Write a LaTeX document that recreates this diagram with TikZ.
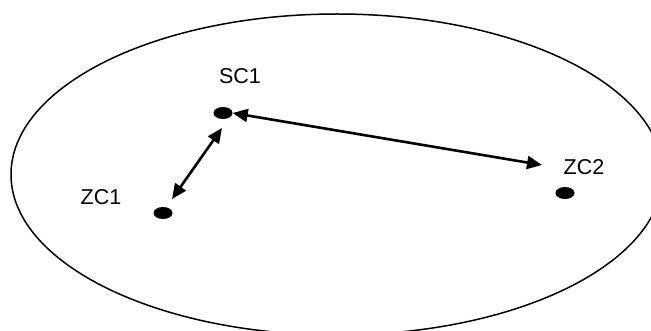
\documentclass[tikz,border=0pt]{standalone}
\usepackage{fontspec}
\setmainfont{Liberation Sans}
\usetikzlibrary{arrows.meta,shapes.geometric}
\begin{document}
\begin{tikzpicture}[x=1pt,y=-1pt,
  dot/.style={fill=black,ellipse,inner sep=0pt,minimum width=19pt,minimum height=12pt},
  lbl/.style={font=\fontsize{21.5}{25}\selectfont,inner sep=0pt},
  link/.style={line width=2.6pt,{Triangle[length=15pt,width=13pt]}-{Triangle[length=15pt,width=13pt]}}]
\useasboundingbox (0,0) rectangle (651,331);
\begin{scope}
  \clip (0,0) rectangle (651,331);
  \draw[line width=1.5pt] (337,174.5) ellipse [x radius=326, y radius=160.5];
\end{scope}
% stations
\node[dot] (sc1) at (223,113) {};
\node[dot] (zc1) at (163,213) {};
\node[dot] (zc2) at (565,193) {};
% labels
\node[lbl] (sc1l) at (240,76) {SC1};
\node[lbl] (zc1l) at (101,197) {ZC1};
\node[lbl] (zc2l) at (584,167) {ZC2};
% arrow ends
\coordinate (a1) at (222,128);
\coordinate (a2) at (172,199);
\coordinate (b2) at (542,165);
\draw[link] (a1) -- (a2);
\draw[link] (sc1.east) -- (b2);
\end{tikzpicture}
\end{document}
